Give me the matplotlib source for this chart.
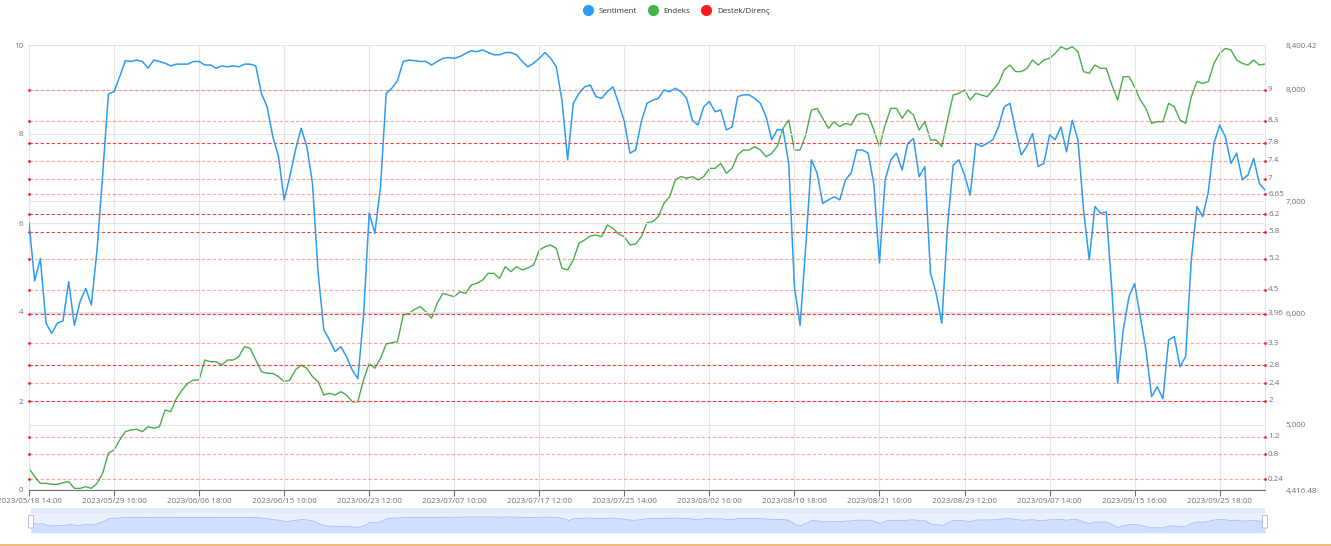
import matplotlib
matplotlib.use("Agg")
import matplotlib.pyplot as plt
import matplotlib.transforms as mtransforms
from matplotlib.lines import Line2D
from matplotlib.patches import FancyBboxPatch, Rectangle
import numpy as np

plt.rcParams['font.family'] = ['Open Sans', 'DejaVu Sans']

# x axis labels, one every `label_step` points
tick_labels = ["2023/05/18 14:00", "2023/05/29 16:00", "2023/06/06 18:00", "2023/06/15 10:00",
               "2023/06/23 12:00", "2023/07/07 10:00", "2023/07/17 12:00", "2023/07/25 14:00",
               "2023/08/02 16:00", "2023/08/10 18:00", "2023/08/21 10:00", "2023/08/29 12:00",
               "2023/09/07 14:00", "2023/09/15 16:00", "2023/09/25 18:00"]
label_step = 15

sentiment = [
    6.0, 4.7, 5.2, 3.75, 3.52, 3.75, 3.8, 4.68, 3.7, 4.23,
    4.53, 4.16, 5.39, 7.1, 8.9, 8.95, 9.29, 9.65, 9.63, 9.66,
    9.63, 9.48, 9.66, 9.63, 9.59, 9.53, 9.57, 9.57, 9.57, 9.63,
    9.63, 9.55, 9.55, 9.48, 9.53, 9.51, 9.53, 9.51, 9.57, 9.57,
    9.53, 8.91, 8.61, 7.94, 7.5, 6.52, 7.04, 7.64, 8.13, 7.72,
    6.89, 4.87, 3.6, 3.37, 3.11, 3.22, 3.0, 2.7, 2.5, 3.9,
    6.22, 5.77, 6.82, 8.91, 9.03, 9.2, 9.63, 9.66, 9.65, 9.63,
    9.63, 9.55, 9.63, 9.7, 9.72, 9.7, 9.74, 9.81, 9.87, 9.85,
    9.89, 9.83, 9.78, 9.78, 9.83, 9.83, 9.78, 9.63, 9.51, 9.59,
    9.7, 9.83, 9.7, 9.51, 8.76, 7.42, 8.69, 8.91, 9.06, 9.1,
    8.84, 8.8, 8.95, 9.06, 8.69, 8.28, 7.57, 7.64, 8.28, 8.69,
    8.76, 8.8, 8.99, 8.95, 9.03, 8.95, 8.8, 8.31, 8.2, 8.61,
    8.73, 8.5, 8.54, 8.09, 8.16, 8.84, 8.88, 8.88, 8.8, 8.69,
    8.39, 7.87, 8.1, 8.09, 7.34, 4.57, 3.7, 5.47, 7.42, 7.12,
    6.44, 6.52, 6.59, 6.52, 6.97, 7.12, 7.64, 7.64, 7.57, 6.89,
    5.1, 6.97, 7.42, 7.57, 7.19, 7.79, 7.9, 7.04, 7.27, 4.87,
    4.42, 3.75, 5.92, 7.3, 7.42, 7.08, 6.63, 7.79, 7.72, 7.79,
    7.87, 8.16, 8.61, 8.69, 8.09, 7.53, 7.72, 8.01, 7.27, 7.34,
    7.98, 7.87, 8.16, 7.6, 8.31, 7.87, 6.29, 5.17, 6.37, 6.22,
    6.25, 4.49, 2.4, 3.6, 4.34, 4.64, 3.9, 3.15, 2.1, 2.32,
    2.05, 3.37, 3.45, 2.77, 3.0, 5.17, 6.37, 6.14, 6.7, 7.79,
    8.2, 7.94, 7.34, 7.57, 6.97, 7.08, 7.45, 6.89, 6.74,
]

endeks = [
    4610, 4536, 4476, 4476, 4467, 4467, 4482, 4491, 4431, 4431,
    4446, 4431, 4476, 4566, 4745, 4775, 4864, 4939, 4954, 4960,
    4939, 4983, 4969, 4983, 5133, 5118, 5237, 5312, 5371, 5401,
    5401, 5580, 5565, 5565, 5535, 5580, 5580, 5610, 5700, 5685,
    5580, 5476, 5461, 5461, 5431, 5386, 5401, 5491, 5535, 5506,
    5431, 5386, 5267, 5282, 5267, 5297, 5267, 5207, 5207, 5401,
    5550, 5506, 5595, 5724, 5735, 5744, 5983, 5998, 6034, 6058,
    6013, 5953, 6088, 6177, 6162, 6147, 6192, 6177, 6252, 6267,
    6296, 6356, 6356, 6311, 6416, 6371, 6416, 6386, 6405, 6431,
    6565, 6595, 6610, 6580, 6401, 6386, 6476, 6625, 6655, 6690,
    6699, 6684, 6789, 6759, 6708, 6684, 6610, 6619, 6684, 6810,
    6819, 6864, 6983, 7043, 7192, 7222, 7207, 7222, 7192, 7222,
    7296, 7296, 7341, 7252, 7296, 7416, 7460, 7460, 7490, 7460,
    7401, 7430, 7495, 7654, 7729, 7460, 7460, 7595, 7818, 7833,
    7744, 7654, 7714, 7669, 7699, 7684, 7774, 7789, 7774, 7639,
    7490, 7684, 7833, 7833, 7744, 7818, 7774, 7639, 7714, 7550,
    7550, 7490, 7729, 7953, 7968, 7998, 7908, 7968, 7953, 7938,
    7998, 8057, 8177, 8221, 8162, 8162, 8190, 8266, 8221, 8266,
    8281, 8326, 8385, 8361, 8385, 8341, 8162, 8147, 8221, 8191,
    8191, 8042, 7908, 8117, 8117, 8027, 7908, 7833, 7699, 7714,
    7714, 7878, 7848, 7729, 7699, 7938, 8072, 8057, 8072, 8236,
    8326, 8370, 8356, 8266, 8236, 8221, 8266, 8221, 8230,
]

# support / resistance levels (Destek/Direnç)
levels = [9, 8.3, 7.8, 7.4, 7, 6.65, 6.2, 5.8, 5.2, 4.5, 3.96, 3.3, 2.8, 2.4, 2, 1.2, 0.8, 0.24]
strong_levels = [7.8, 6.2, 5.8, 3.96, 2.8, 2]

endeks_min, endeks_max = 4416.48, 8400.42
endeks_ticks = [5000, 6000, 7000, 8000]

BLUE = '#2d9cf4'
GREEN = '#46b04a'
RED = '#ff1a1a'
GRID = '#e4e4e4'
AXIS = '#6e7079'
FS = 5.8

W, H = 1331, 546
fig = plt.figure(figsize=(W / 100, H / 100), dpi=100)
L, R, T, B = 29, 1265, 45, 490
ax = fig.add_axes([L / W, 1 - B / H, (R - L) / W, (B - T) / H])
ax2 = ax.twinx()
ax.set_zorder(2)
ax2.set_zorder(1)
ax.patch.set_visible(False)

x = np.arange(len(sentiment))
n_last = len(sentiment) - 1

# Endeks on the right axis
ax2.plot(x, endeks, color=GREEN, lw=1.0, zorder=3)
ax2.set_ylim(endeks_min, endeks_max)
ax2.set_yticks([endeks_min] + endeks_ticks + [endeks_max])
ax2.set_yticklabels([f"{v:,.2f}" if v in (endeks_min, endeks_max) else f"{v:,.0f}"
                     for v in [endeks_min] + endeks_ticks + [endeks_max]])
ax2.tick_params(axis='y', length=0, pad=15, labelsize=FS, labelcolor=AXIS)
ax2.yaxis.grid(True, color=GRID, lw=0.8)
for s in ax2.spines.values():
    s.set_visible(False)

# Sentiment on the left axis
ax.plot(x, sentiment, color=BLUE, lw=1.1, zorder=4)
ax.set_ylim(0, 10)
ax.set_xlim(0, n_last)
ax.set_yticks(range(0, 11, 2))
ax.tick_params(axis='y', length=0, pad=4, labelsize=FS, labelcolor=AXIS)
ax.yaxis.grid(True, color=GRID, lw=0.8)
ax.set_xticks(np.arange(0, len(tick_labels) * label_step, label_step))
ax.set_xticklabels(tick_labels)
ax.tick_params(axis='x', length=4, color=AXIS, pad=2, labelsize=FS, labelcolor=AXIS)
ax.xaxis.grid(True, color=GRID, lw=0.8)
ax.set_axisbelow(True)
ax.spines['top'].set_visible(False)
ax.spines['left'].set_color(GRID)
ax.spines['right'].set_color(GRID)
ax.spines['bottom'].set_color(AXIS)

# mark lines with end dots and labels
lbl_tr = mtransforms.blended_transform_factory(ax.transAxes, ax.transData)
for lv in levels:
    a = 0.85 if lv in strong_levels else 0.4
    ax.plot([0, n_last], [lv, lv], color=RED, lw=0.8, ls=(0, (3, 2)), alpha=a, zorder=2)
    ax.scatter([0, n_last], [lv, lv], s=4, color=RED, zorder=3, clip_on=False, linewidths=0)
    ax.text(1.0025, lv, f"{lv:g}", transform=lbl_tr, va='center', ha='left',
            fontsize=FS, color=AXIS)

# legend
handles = [Line2D([], [], marker='o', ls='', color=c, markersize=7)
           for c in (BLUE, GREEN, RED)]
fig.legend(handles, ['Sentiment', 'Endeks', 'Destek/Direnç'], loc='upper center',
           bbox_to_anchor=(0.507, 1.0), ncol=3, frameon=False, fontsize=FS,
           handletextpad=0.3, columnspacing=1.0, labelcolor='#333333')

# data zoom slider
sl = fig.add_axes([31 / W, 1 - 533 / H, (1265 - 31) / W, 25 / H])
sl.set_xlim(0, n_last)
smin, smax = min(sentiment), max(sentiment)
rng = smax - smin
sl.set_ylim(smin - 5 * rng / 11, smin + 20 * rng / 11)
sl.set_facecolor((135 / 255, 175 / 255, 1.0, 0.18))
sl.add_patch(Rectangle((0, 0.8), 1, 0.2, transform=sl.transAxes,
                       color='#e3e9f7', lw=0, zorder=1))
sl.fill_between(x, sl.get_ylim()[0], sentiment, color='#8fb0f7', alpha=0.25, lw=0, zorder=2)
sl.plot(x, sentiment, color='#8fb0f7', lw=0.6, alpha=0.8, zorder=3)
for hx in (0.0, 1.0):
    sl.add_patch(FancyBboxPatch((hx - 0.002, 0.2), 0.004, 0.5, transform=sl.transAxes,
                                boxstyle='round,pad=0,rounding_size=0.001',
                                fc='white', ec='#acb8d1', lw=0.6, zorder=5, clip_on=False))
sl.set_xticks([])
sl.set_yticks([])
for s in sl.spines.values():
    s.set_visible(False)

fig.add_artist(Line2D([0, 1], [1 / H, 1 / H], color='#f0b060', lw=1.2,
                      transform=fig.transFigure))

fig.savefig('out.png', dpi=100)
